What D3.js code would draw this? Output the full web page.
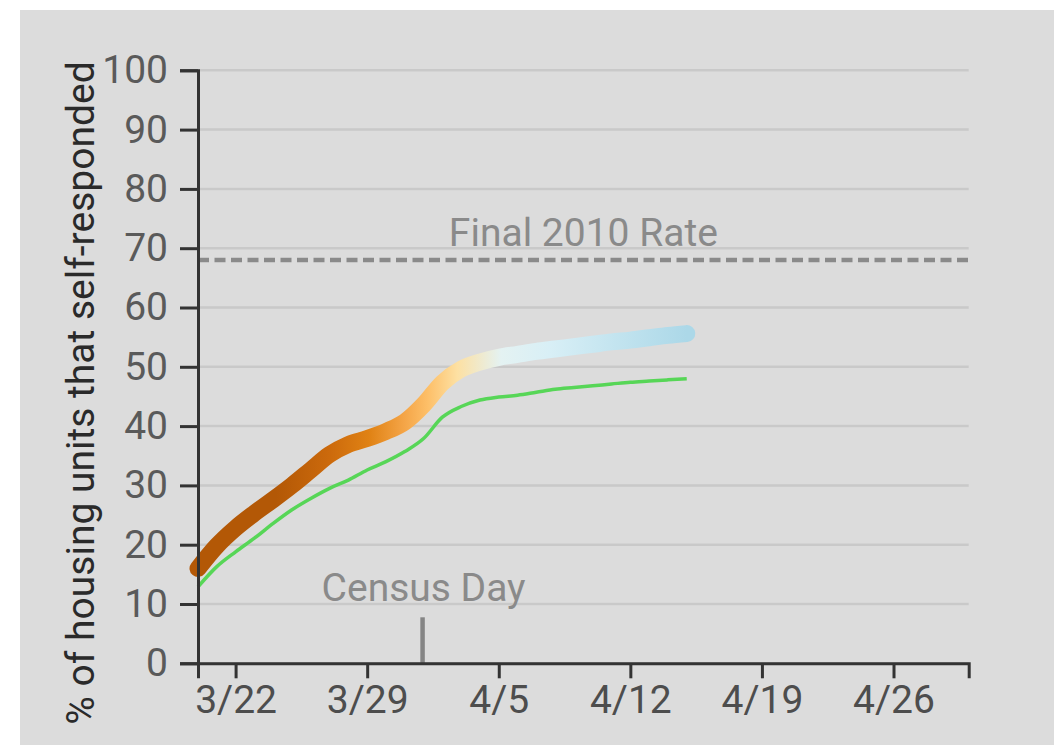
<!DOCTYPE html>
<html>
<head>
<meta charset="utf-8">
<script src="https://cdn.jsdelivr.net/npm/d3@7"></script>
<style>
	body { margin: 0; background: #fff; }
	svg text { font-family: Roboto, "Noto Sans", sans-serif; }
</style>
</head>
<body>
<div id="chart"></div>
<script>
/***************************************************************************/
/********************************************************* LES DONNEES *****/
/***************************************************************************/

const dates = [
	"2020-03-20", "2020-03-21", "2020-03-22", "2020-03-23", "2020-03-24",
	"2020-03-25", "2020-03-26", "2020-03-27", "2020-03-28", "2020-03-29",
	"2020-03-30", "2020-03-31", "2020-04-01", "2020-04-02", "2020-04-03",
	"2020-04-04", "2020-04-05", "2020-04-06", "2020-04-07", "2020-04-08",
	"2020-04-09", "2020-04-10", "2020-04-11", "2020-04-12", "2020-04-13",
	"2020-04-14", "2020-04-15"
];

// courbe épaisse (dégradé)
const localRate = [
	16.0, 19.8, 22.8, 25.3, 27.6, 30.0, 32.6, 35.2, 36.9, 37.9,
	39.1, 40.7, 43.6, 47.3, 49.6, 50.8, 51.6, 52.1, 52.6, 53.0,
	53.4, 53.8, 54.2, 54.5, 54.9, 55.3, 55.6
];

// courbe verte
const nationalRate = [
	12.9, 16.3, 18.8, 21.1, 23.6, 25.9, 27.8, 29.5, 30.9, 32.6,
	34.0, 35.7, 37.9, 41.5, 43.3, 44.4, 44.9, 45.2, 45.7, 46.2,
	46.5, 46.8, 47.1, 47.4, 47.6, 47.8, 48.0
];

const yTicks = [0, 10, 20, 30, 40, 50, 60, 70, 80, 90, 100];
const xTickLabels = ["3/22", "3/29", "4/5", "4/12", "4/19", "4/26"];
const xDomain = ["2020-03-20", "2020-04-30"];

const final2010Rate = 68;
const censusDay = "2020-04-01";

/***************************************************************************/
/************************************************ CREATION DU GRAPHIQUE *****/
/***************************************************************************/

const width = 1054, height = 745;
const margin = {left: 198, right: 86, top: 70, bottom: 82};
const fontSize = "39px";

const parse = d3.timeParse("%Y-%m-%d");
const parseTick = d3.timeParse("%m/%d/%Y");

const svg = d3.select("#chart")
	.append("svg")
	.attr("width", width)
	.attr("height", height);

svg.append("rect")
	.attr("x", 20)
	.attr("y", 10)
	.attr("width", width - 20)
	.attr("height", height - 10)
	.attr("fill", "#dcdcdc");

const x = d3.scaleTime()
	.domain(xDomain.map(parse))
	.range([margin.left, width - margin.right + 0.7]);

const y = d3.scaleLinear()
	.domain([0, 100])
	.range([height - margin.bottom + 0.3, margin.top + 0.3]);

// lignes de la grille
svg.append("g")
	.selectAll("line")
	.data(yTicks)
	.enter()
	.append("line")
	.attr("x1", x.range()[0])
	.attr("x2", x.range()[1])
	.attr("y1", d => y(d))
	.attr("y2", d => y(d))
	.style("stroke", "#c9c9c9")
	.style("stroke-width", 2.5);

// taux final 2010
svg.append("line")
	.attr("x1", x.range()[0])
	.attr("x2", x.range()[1])
	.attr("y1", y(final2010Rate))
	.attr("y2", y(final2010Rate))
	.style("stroke", "#8a8a8a")
	.style("stroke-width", 4.5)
	.style("stroke-dasharray", "11,5.5");

svg.append("text")
	.attr("x", (x.range()[0] + x.range()[1]) / 2)
	.attr("y", y(final2010Rate) - 14)
	.attr("text-anchor", "middle")
	.attr("fill", "#8a8a8a")
	.style("font-size", fontSize)
	.text("Final 2010 Rate");

// jour du recensement
svg.append("line")
	.attr("x1", x(parse(censusDay)) - 1)
	.attr("x2", x(parse(censusDay)) - 1)
	.attr("y1", y(0))
	.attr("y2", y(0) - 46)
	.style("stroke", "#858585")
	.style("stroke-width", 4.5);

svg.append("text")
	.attr("x", x(parse(censusDay)))
	.attr("y", y(0) - 62)
	.attr("text-anchor", "middle")
	.attr("fill", "#8a8a8a")
	.style("font-size", fontSize)
	.text("Census Day");

/***************************************************************************/
/****************************************************** LES COURBES ********/
/***************************************************************************/

const points = dates.map(function(d, i) {
	return {date: parse(d), local: localRate[i], national: nationalRate[i]};
});

const defs = svg.append("defs");
const grad = defs.append("linearGradient")
	.attr("id", "grad")
	.attr("gradientUnits", "userSpaceOnUse")
	.attr("x1", x(points[0].date))
	.attr("x2", x(points[points.length - 1].date))
	.attr("y1", 0)
	.attr("y2", 0);

[
	[0, "#b35806"], [0.16, "#b35806"], [0.27, "#cc6a0c"], [0.35, "#e08214"],
	[0.42, "#f4a446"], [0.47, "#fdbf68"], [0.53, "#fde0a2"], [0.62, "#e4f2f2"],
	[0.72, "#d8eff6"], [1, "#acd8e8"]
].forEach(function(s) {
	grad.append("stop").attr("offset", s[0]).attr("stop-color", s[1]);
});

const lineLocal = d3.line()
	.x(d => x(d.date))
	.y(d => y(d.local))
	.curve(d3.curveMonotoneX);

const lineNational = d3.line()
	.x(d => x(d.date))
	.y(d => y(d.national))
	.curve(d3.curveMonotoneX);

svg.append("path")
	.datum(points)
	.attr("d", lineLocal)
	.style("fill", "none")
	.style("stroke", "url(#grad)")
	.style("stroke-width", 17)
	.style("stroke-linecap", "round")
	.style("stroke-linejoin", "round");

svg.append("path")
	.datum(points)
	.attr("d", lineNational)
	.style("fill", "none")
	.style("stroke", "#57d657")
	.style("stroke-width", 3.5);

/***************************************************************************/
/********************************************************* LES AXES ********/
/***************************************************************************/

const xAxis = svg.append("g")
	.attr("transform", "translate(0," + y(0) + ")")
	.call(d3.axisBottom(x)
		.tickValues(xTickLabels.map(t => parseTick(t + "/2020")))
		.tickFormat((d, i) => xTickLabels[i])
		.tickSize(15)
		.tickSizeOuter(15));

xAxis.selectAll("text")
	.attr("y", 50)
	.attr("dy", 0)
	.attr("fill", "#4d4d4d")
	.style("font-size", fontSize);

const yAxis = svg.append("g")
	.attr("transform", "translate(" + x.range()[0] + ",0)")
	.call(d3.axisLeft(y)
		.tickValues(yTicks)
		.tickSize(18)
		.tickSizeOuter(18)
		.tickPadding(12));

yAxis.selectAll("text")
	.attr("fill", "#5a5a5a")
	.style("font-size", fontSize);

svg.selectAll(".domain, .tick line")
	.style("stroke", "#333")
	.style("stroke-width", 3);

svg.append("text")
	.attr("transform", "translate(94," + 393 + ") rotate(-90)")
	.attr("text-anchor", "middle")
	.attr("fill", "#2a2a2a")
	.style("font-size", fontSize)
	.text("% of housing units that self-responded");
</script>
</body>
</html>
